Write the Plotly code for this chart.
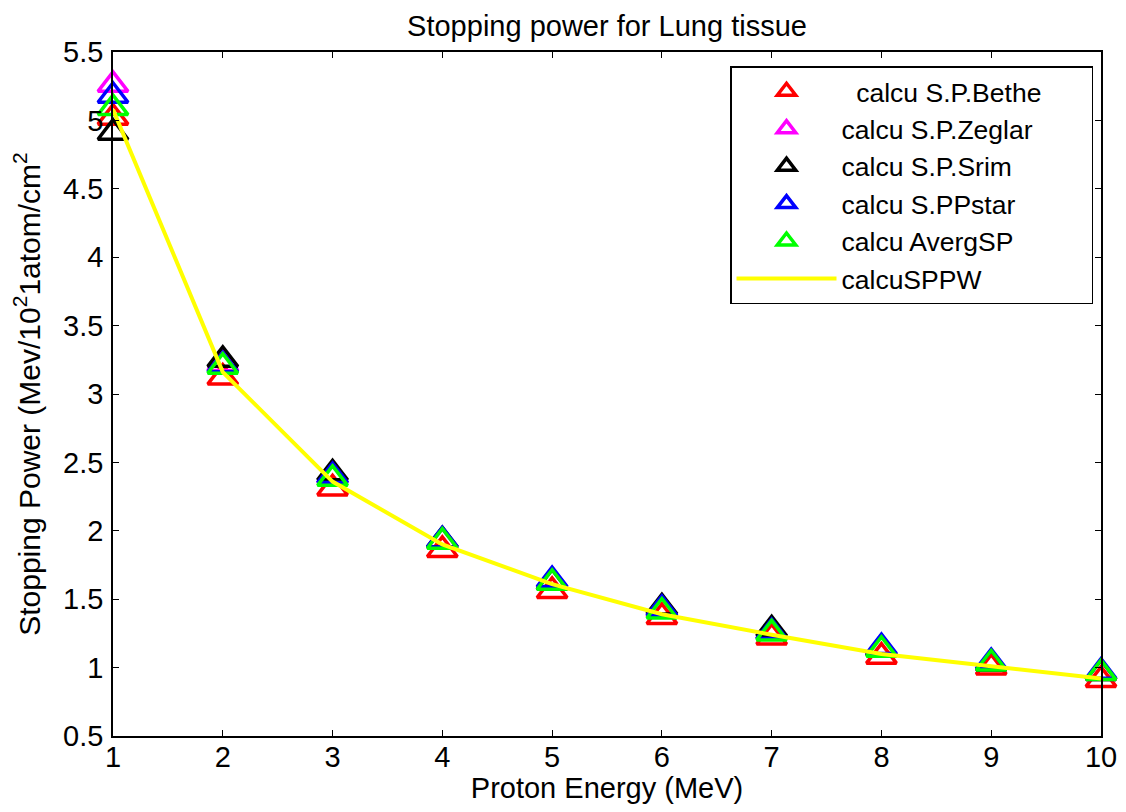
import plotly.graph_objects as go

energy = [1, 2, 3, 4, 5, 6, 7, 8, 9, 10]
sp_bethe  = [5.02, 3.12, 2.31, 1.86, 1.56, 1.37, 1.22, 1.08, 1.00, 0.91]
sp_zeglar = [5.26, 3.22, 2.40, 1.92, 1.63, 1.42, 1.26, 1.14, 1.03, 0.96]
sp_srim   = [4.91, 3.25, 2.42, 1.93, 1.62, 1.44, 1.28, 1.14, 1.03, 0.96]
sp_pstar  = [5.18, 3.21, 2.40, 1.93, 1.64, 1.43, 1.26, 1.15, 1.04, 0.97]
sp_averg  = [5.09, 3.20, 2.38, 1.92, 1.62, 1.41, 1.25, 1.13, 1.03, 0.96]
sp_ppw    = [5.08, 3.16, 2.36, 1.90, 1.61, 1.39, 1.24, 1.10, 1.01, 0.92]

x_ticks = [1, 2, 3, 4, 5, 6, 7, 8, 9, 10]
y_ticks = [0.5, 1, 1.5, 2, 2.5, 3, 3.5, 4, 4.5, 5, 5.5]
y_tick_labels = ["0.5", "1", "1.5", "2", "2.5", "3", "3.5", "4", "4.5", "5", "5.5"]

series = [
    ("\u00a0\u00a0calcu S.P.Bethe" + "\u00a0" * 6, sp_bethe, "#FF0000"),
    ("calcu S.P.Zeglar", sp_zeglar, "#FF00FF"),
    ("calcu S.P.Srim", sp_srim, "#000000"),
    ("calcu S.PPstar", sp_pstar, "#0000FF"),
    ("calcu AvergSP", sp_averg, "#00FF00"),
]

FONT = "Liberation Sans, Arial, sans-serif"

fig = go.Figure()
for name, vals, col in series:
    fig.add_trace(go.Scatter(
        x=energy, y=vals, mode="markers", name=name, cliponaxis=False,
        marker=dict(symbol="triangle-up-open", size=26, color=col,
                    line=dict(width=3.5, color=col)),
    ))
fig.add_trace(go.Scatter(
    x=energy, y=sp_ppw, mode="lines", name="calcuSPPW", cliponaxis=False,
    line=dict(color="#FFFF00", width=4),
))

axis_common = dict(
    showline=True, linecolor="black", linewidth=1.5, mirror="ticks",
    ticks="inside", ticklen=6, tickcolor="black", tickwidth=1,
    showgrid=False, zeroline=False, automargin=False,
    tickfont=dict(size=29, color="black", family=FONT),
)

# page body has an 8px margin, so the figure is 16px smaller than the window
fig.update_layout(
    width=1110, height=796,
    margin=dict(l=105, r=17, t=44, b=68),
    paper_bgcolor="white", plot_bgcolor="white",
    font=dict(family=FONT, color="black"),
    title=dict(text="Stopping power for Lung tissue", xref="paper", x=0.5, xanchor="center",
               y=0.978, yanchor="middle", automargin=False,
               font=dict(size=29, color="black", family=FONT)),
    xaxis=dict(range=[1, 10], tickvals=x_ticks, ticklabelstandoff=-6,
               title=dict(text="Proton Energy (MeV)", font=dict(size=29, family=FONT), standoff=0),
               **axis_common),
    yaxis=dict(range=[0.5, 5.5], tickvals=y_ticks, ticktext=y_tick_labels,
               ticklabelstandoff=2,
               title=dict(text="Stopping Power (Mev/10<sup>2</sup>1atom/cm<sup>2</sup>",
                          font=dict(size=30, family=FONT), standoff=23),
               **axis_common),
    legend=dict(x=0.6245, y=0.9795, xanchor="left", yanchor="top",
                bgcolor="white", bordercolor="black", borderwidth=1.5,
                font=dict(size=26.5, color="black", family=FONT),
                itemwidth=100, tracegroupgap=0),
    showlegend=True,
)

fig.write_html("out.html")
